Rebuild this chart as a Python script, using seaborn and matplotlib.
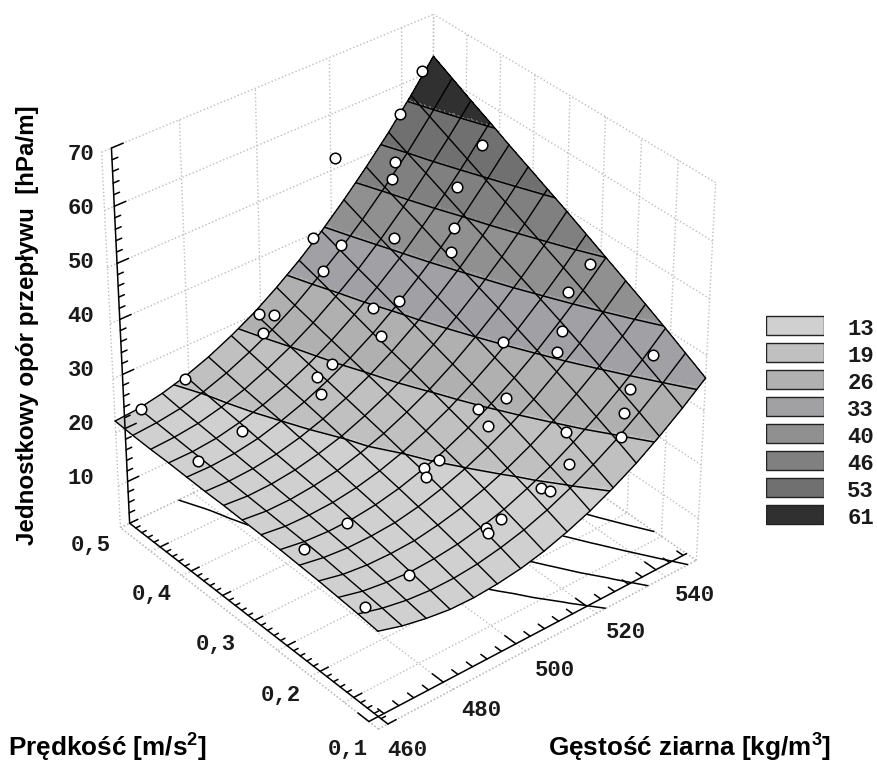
import matplotlib
matplotlib.use("Agg")
import matplotlib.pyplot as plt
from mpl_toolkits.mplot3d import proj3d
import numpy as np
import pandas as pd
import seaborn as sns

# ── Data ──────────────────────────────────────────────────────────────────────
RHO_MIN, RHO_MAX = 460.0, 549.0
V_MIN, V_MAX = 0.1, 0.5
Z_FLOOR, Z_TOP = 2.0, 70.0

surface_z = np.array([
    [20.0, 18.7, 17.8, 17.2, 17.1, 17.4, 18.0, 19.0, 20.4, 22.1, 24.2, 26.6, 29.4, 32.5, 35.9],
    [20.4, 19.2, 18.4, 18.0, 18.0, 18.4, 19.2, 20.3, 21.8, 23.7, 25.9, 28.4, 31.3, 34.5, 38.0],
    [20.7, 19.6, 19.0, 18.7, 18.9, 19.4, 20.3, 21.5, 23.2, 25.1, 27.5, 30.1, 33.1, 36.4, 40.1],
    [21.0, 20.0, 19.5, 19.4, 19.6, 20.3, 21.3, 22.7, 24.4, 26.5, 29.0, 31.8, 34.9, 38.3, 42.1],
    [21.2, 20.4, 20.0, 20.0, 20.3, 21.1, 22.3, 23.8, 25.7, 27.9, 30.4, 33.4, 36.6, 40.2, 44.0],
    [21.4, 20.7, 20.4, 20.5, 21.0, 21.9, 23.2, 24.8, 26.8, 29.2, 31.9, 34.9, 38.3, 41.9, 45.9],
    [21.5, 20.9, 20.8, 21.0, 21.6, 22.6, 24.0, 25.8, 27.9, 30.4, 33.2, 36.4, 39.9, 43.7, 47.8],
    [21.6, 21.1, 21.1, 21.5, 22.2, 23.4, 24.9, 26.8, 29.0, 31.6, 34.6, 37.9, 41.5, 45.4, 49.7],
    [21.7, 21.3, 21.4, 21.9, 22.8, 24.0, 25.7, 27.7, 30.1, 32.8, 35.9, 39.3, 43.0, 47.1, 51.5],
    [21.7, 21.5, 21.7, 22.3, 23.3, 24.7, 26.5, 28.6, 31.1, 34.0, 37.2, 40.7, 44.6, 48.8, 53.3],
    [21.8, 21.7, 22.0, 22.7, 23.9, 25.4, 27.3, 29.5, 32.1, 35.1, 38.5, 42.1, 46.1, 50.5, 55.1],
    [21.9, 21.9, 22.3, 23.2, 24.4, 26.0, 28.0, 30.4, 33.2, 36.3, 39.7, 43.6, 47.7, 52.2, 57.0],
    [21.9, 22.1, 22.6, 23.6, 24.9, 26.7, 28.8, 31.3, 34.2, 37.4, 41.0, 45.0, 49.3, 53.9, 58.8],
    [22.0, 22.3, 22.9, 24.0, 25.5, 27.4, 29.6, 32.2, 35.3, 38.6, 42.3, 46.4, 50.8, 55.6, 60.7],
    [22.2, 22.5, 23.3, 24.5, 26.1, 28.1, 30.4, 33.2, 36.3, 39.8, 43.7, 47.9, 52.4, 57.3, 62.6],
])
contour_levels = [23.9, 28.8, 34.6, 40.3, 45.9, 50.8, 56.5]
legend_labels = ["13", "19", "26", "33", "40", "46", "53", "61"]
band_colors = ["#d0d0d0", "#c0c0c0", "#b0b0b0", "#a0a0a5", "#909090", "#808080", "#707070", "#303030"]

point_rho = [545.8, 539.4, 521.2, 533.9, 531.6, 545.9, 538.5, 533.6, 530.5, 525.2, 514.8, 517.9, 512.5,
             498.7, 500.5, 496.5, 514.1, 518.3, 511.4, 546.3, 540.5, 535.4, 532.3, 526.5, 544.5, 537.7,
             519.9, 514.7, 513.8, 523.9, 534.1, 530.8, 520.3, 502.1, 498.7, 497.6, 513.0, 513.8, 502.5,
             498.9, 498.5, 478.2, 463.1, 466.7, 478.0, 465.3, 495.4, 478.5, 497.4, 477.6, 464.7, 501.2]
point_v = [0.500, 0.500, 0.500, 0.477, 0.469, 0.409, 0.407, 0.386, 0.374, 0.432, 0.500, 0.474, 0.472,
           0.495, 0.481, 0.477, 0.404, 0.386, 0.377, 0.252, 0.254, 0.235, 0.226, 0.275, 0.152, 0.149,
           0.236, 0.249, 0.230, 0.169, 0.139, 0.127, 0.146, 0.239, 0.243, 0.234, 0.148, 0.140, 0.151,
           0.154, 0.148, 0.155, 0.136, 0.498, 0.404, 0.400, 0.380, 0.498, 0.397, 0.242, 0.234, 0.395]
point_z = [60.8, 54.8, 52.0, 49.4, 47.5, 54.2, 48.8, 44.5, 41.9, 41.5, 39.2, 39.1, 36.1,
           30.5, 30.8, 29.1, 34.3, 35.7, 32.1, 44.8, 41.4, 37.3, 35.2, 34.8, 37.1, 33.3,
           29.9, 28.5, 27.3, 28.2, 30.9, 28.7, 25.6, 24.0, 23.3, 22.8, 23.3, 23.2, 20.9,
           20.3, 20.0, 18.7, 19.9, 22.5, 22.8, 21.8, 26.2, 24.3, 27.3, 20.4, 20.7, 28.6]

rho_labels = [460, 480, 500, 520, 540]
v_labels = [0.1, 0.2, 0.3, 0.4, 0.5]
z_labels = [10, 20, 30, 40, 50, 60, 70]

# ── Aesthetics ────────────────────────────────────────────────────────────────
sns.set_theme(style="white")
plt.rcParams["mathtext.fontset"] = "custom"
plt.rcParams["mathtext.bf"] = "Liberation Sans:bold"
plt.rcParams["mathtext.rm"] = "Liberation Sans:bold"
MONO = dict(family="Liberation Mono", fontweight="bold", fontsize=16, color="#1a1a1a")
TITLE = dict(family="Liberation Sans", fontweight="bold", color="black")
GRID = dict(color="#bdbdbd", linestyle=":", linewidth=1.0, zorder=1)
AXIS = dict(color="black", linewidth=1.1, zorder=2)
Z_AXIS = dict(color="black", linewidth=1.1, zorder=4)

fig = plt.figure(figsize=(8.78, 7.62), dpi=100)
ax = fig.add_axes([-106.7 / 878, -113.1 / 762, 1000 / 878, 1000 / 762], projection="3d", computed_zorder=False)
ax.set_proj_type("persp", focal_length=0.751)
ax.view_init(elev=34.642, azim=-129.677)
ax.set_box_aspect((0.999, 1, 1.083), zoom=0.73)
ax.set_xlim(RHO_MIN, RHO_MAX)
ax.set_ylim(V_MIN, V_MAX)
ax.set_zlim(Z_FLOOR, Z_TOP)
ax.set_xticks([])
ax.set_yticks([])
ax.set_zticks([])
ax.set_axis_off()

rho = np.linspace(RHO_MIN, RHO_MAX, surface_z.shape[1])
v = np.linspace(V_MIN, V_MAX, surface_z.shape[0])

# Box: dotted walls and floor
rho_grid = [460, 480, 500, 520, 540, RHO_MAX]
v_grid = np.arange(0.1, 0.501, 0.05)
z_grid = [Z_FLOOR] + z_labels
for r in rho_grid:
    ax.plot([r, r], [V_MIN, V_MAX], [Z_FLOOR, Z_FLOOR], **GRID)
    ax.plot([r, r], [V_MAX, V_MAX], [Z_FLOOR, Z_TOP], **GRID)
for w in v_grid:
    ax.plot([RHO_MIN, RHO_MAX], [w, w], [Z_FLOOR, Z_FLOOR], **GRID)
    ax.plot([RHO_MAX, RHO_MAX], [w, w], [Z_FLOOR, Z_TOP], **GRID)
for z in z_grid:
    ax.plot([RHO_MIN, RHO_MAX], [V_MAX, V_MAX], [z, z], **GRID)
    ax.plot([RHO_MAX, RHO_MAX], [V_MIN, V_MAX], [z, z], **GRID)
ax.plot([RHO_MIN, RHO_MIN], [V_MIN, V_MAX], [Z_FLOOR, Z_FLOOR], **GRID)
ax.plot([RHO_MIN, RHO_MAX], [V_MIN, V_MIN], [Z_FLOOR, Z_FLOOR], **GRID)

# Contours thrown on the floor
ax.contour(rho, v, surface_z, levels=contour_levels, zdir="z", offset=Z_FLOOR,
           colors="black", linewidths=1.1, zorder=1.5)

# Black axes, set slightly inside the box
V_AXIS_RHO = 462.5
RHO_AXIS_V = 0.114
ax.plot([V_AXIS_RHO, V_AXIS_RHO], [V_MIN, V_MAX], [Z_FLOOR, Z_FLOOR], **AXIS)
ax.plot([RHO_MIN, RHO_MAX], [RHO_AXIS_V, RHO_AXIS_V], [Z_FLOOR, Z_FLOOR], **AXIS)
ax.plot([V_AXIS_RHO, V_AXIS_RHO], [V_MAX, V_MAX], [Z_FLOOR, Z_TOP], **Z_AXIS)
for w in np.arange(0.1, 0.501, 0.01):
    length = 2.2 if round(w * 100) % 5 == 0 else 1.2
    ax.plot([V_AXIS_RHO, V_AXIS_RHO + length], [w, w], [Z_FLOOR, Z_FLOOR], **AXIS)
for r in np.arange(460, RHO_MAX, 4):
    length = 0.016 if r % 20 == 0 else 0.009
    ax.plot([r, r], [RHO_AXIS_V, RHO_AXIS_V + length], [Z_FLOOR, Z_FLOOR], **AXIS)
for z in np.arange(4, 71, 2):
    length = 3.0 if z % 10 == 0 else 1.5
    ax.plot([V_AXIS_RHO, V_AXIS_RHO + length], [V_MAX, V_MAX], [z, z], **Z_AXIS)

# Surface: fine facets for sharp colour bands, table lines for the mesh
fine_rho = np.linspace(RHO_MIN, RHO_MAX, 225)
fine_v = np.linspace(V_MIN, V_MAX, 225)
by_rho = np.array([np.interp(fine_rho, rho, row) for row in surface_z])
fine_z = np.array([np.interp(fine_v, v, col) for col in by_rho.T]).T
band = np.digitize(fine_z, contour_levels)
face = np.array(matplotlib.colors.to_rgba_array(band_colors))[band]
fx, fy = np.meshgrid(fine_rho, fine_v)
ax.plot_surface(fx, fy, fine_z, facecolors=face, rstride=1, cstride=1, shade=False,
                linewidth=0, antialiased=False, zorder=3)
ax.contour(rho, v, surface_z, levels=contour_levels, colors="black", linewidths=1.1, zorder=4)
for j, w in enumerate(v):
    ax.plot(rho, np.full_like(rho, w), surface_z[j], color="black", linewidth=1.0, zorder=4)
for i, r in enumerate(rho):
    ax.plot(np.full_like(v, r), v, surface_z[:, i], color="black", linewidth=1.0, zorder=4)

# Measured points, always on top
ax.scatter(point_rho, point_v, point_z, s=58, c="white", edgecolors="black", linewidths=1.1,
           depthshade=False, zorder=5)


def floor_label(x, y, z, text):
    sx, sy, _ = proj3d.proj_transform(x, y, z, ax.get_proj())
    ax.text2D(sx, sy, text, transform=ax.transData, ha="center", va="center", **MONO)


# Tick labels
for w in v_labels:
    floor_label(V_AXIS_RHO - 10.5, w, Z_FLOOR - 0.8, f"{w:.1f}".replace(".", ","))
for r in rho_labels:
    floor_label(r, RHO_AXIS_V - 0.055, Z_FLOOR + 0.2, str(r))
for z in z_labels:
    fig.text(81 / 878, 1 - (155 + (70 - z) * 54 / 10) / 762, str(z), ha="center", va="center", **MONO)

fig.text(28 / 878, 1 - 325 / 762, "Jednostkowy opór przepływu  [hPa/m]", rotation=90, ha="center", va="center",
         fontsize=17.4, **TITLE)
fig.text(8 / 878, 1 - 747 / 762, r"Prędkość [m/s$^{\mathbf{2}}$]", ha="left", va="center", fontsize=18.8, **TITLE)
fig.text(548 / 878, 1 - 747 / 762, r"Gęstość ziarna [kg/m$^{\mathbf{3}}$]", ha="left", va="center", fontsize=18.8, **TITLE)

# Legend swatches
key = pd.DataFrame({"label": legend_labels, "size": [1] * len(legend_labels)})
lax = fig.add_axes([766 / 878, 1 - 528 / 762, 58 / 878, 216 / 762])
sns.barplot(data=key, y="label", x="size", hue="label", palette=band_colors, legend=False,
            width=0.7, edgecolor="#222222", linewidth=1.0, ax=lax)
lax.set_xlim(0, 1)
lax.set(xlabel="", ylabel="", xticks=[], yticks=[])
for i, label in enumerate(legend_labels):
    lax.text(1.4, i + 0.13, label, ha="left", va="center", **MONO)
sns.despine(ax=lax, left=True, bottom=True, right=True, top=True)

fig.savefig("out.png", dpi=100)
